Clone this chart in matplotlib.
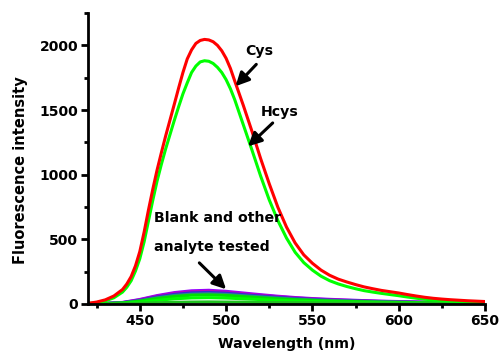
import numpy as np
import matplotlib
matplotlib.use("Agg")
import matplotlib.pyplot as plt
from matplotlib.ticker import MultipleLocator

plt.rcParams["font.family"] = ["DejaVu Sans"]
plt.rcParams["font.weight"] = "bold"

# ── data ────────────────────────────────────────────────────────────────────
wl = [420, 425, 430, 435, 440, 442.5, 445, 447.5, 450, 452.5, 455, 457.5, 460,
      462.5, 465, 470, 472.5, 475, 477.5, 480, 482.5, 485, 487.5, 490, 492.5, 495,
      497.5, 500, 502.5, 505, 510, 515, 520, 525, 530, 535, 540, 545, 550, 555,
      560, 565, 570, 575, 580, 585, 590, 595, 600, 605, 610, 615, 620, 625, 630,
      635, 640, 645, 650]

cys = [5, 15, 32, 62, 112, 155, 212, 295, 405, 555, 725, 885, 1035,
       1170, 1300, 1545, 1670, 1790, 1895, 1965, 2015, 2038, 2046, 2042, 2028, 2000,
       1958, 1900, 1822, 1725, 1535, 1335, 1125, 930, 748, 595, 472, 380, 315, 262,
       222, 192, 170, 150, 132, 118, 105, 95, 85, 73, 62, 52, 44, 38, 33,
       29, 25, 22, 19]

hcys = [3, 10, 24, 48, 92, 130, 180, 255, 350, 480, 640, 800, 950,
        1080, 1200, 1420, 1525, 1625, 1710, 1790, 1840, 1872, 1881, 1877, 1860, 1830,
        1790, 1735, 1665, 1580, 1385, 1190, 990, 805, 645, 510, 400, 320, 262, 215,
        180, 155, 135, 118, 103, 92, 82, 73, 64, 54, 45, 37, 31, 26, 22,
        18, 15, 12, 10]

wl_b = [420, 430, 440, 450, 460, 470, 480, 490, 500, 510, 520, 530, 540, 550,
        560, 570, 580, 590, 600, 610, 620, 630, 640, 650]
blank_curves = [
    ("#9400FF", [2, 5, 12, 35, 65, 88, 102, 106, 98, 85, 72, 60, 50, 42,
                 36, 31, 26, 22, 19, 16, 13, 11, 9, 8]),
    ("#C000C0", [2, 4, 11, 32, 60, 82, 95, 98, 91, 79, 67, 56, 47, 39,
                 33, 28, 24, 20, 17, 14, 12, 10, 8, 7]),
    ("#3030D0", [2, 4, 10, 28, 54, 74, 86, 89, 83, 72, 61, 51, 43, 36,
                 30, 26, 22, 18, 15, 13, 11, 9, 8, 7]),
    ("#2E8B8B", [2, 4, 9, 25, 48, 66, 76, 79, 74, 64, 55, 46, 38, 32,
                 27, 23, 19, 16, 14, 12, 10, 8, 7, 6]),
    ("#00E000", [1, 3, 8, 22, 42, 58, 68, 70, 66, 57, 48, 40, 33, 28,
                 23, 20, 17, 14, 12, 10, 9, 7, 6, 5]),
    ("#00FF00", [1, 2, 5, 14, 28, 40, 47, 49, 46, 40, 34, 28, 23, 19,
                 16, 14, 12, 10, 8, 7, 6, 5, 5, 4]),
    ("#20C020", [1, 2, 3, 6, 10, 13, 15, 16, 15, 14, 12, 11, 10, 9,
                 8, 8, 7, 7, 6, 6, 6, 5, 5, 5]),
]

# ── plot ────────────────────────────────────────────────────────────────────
fig = plt.figure(figsize=(5.0, 3.57), dpi=100)
ax = fig.add_axes([0.176, 0.1485, 0.794, 0.815])

for color, vals in blank_curves:
    ax.plot(wl_b, vals, color=color, lw=2.2, solid_joinstyle="round")
ax.plot(wl, hcys, color="#00FF00", lw=2.2, solid_joinstyle="round")
ax.plot(wl, cys, color="#FF0000", lw=2.2, solid_joinstyle="round")

ax.set_xlim(420, 650)
ax.set_ylim(0, 2250)
ax.set_xticks([450, 500, 550, 600, 650])
ax.xaxis.set_minor_locator(MultipleLocator(25))
ax.yaxis.set_major_locator(MultipleLocator(500))
ax.yaxis.set_minor_locator(MultipleLocator(250))

for s in ("top", "right"):
    ax.spines[s].set_visible(False)
for s in ("left", "bottom"):
    ax.spines[s].set_linewidth(2)
ax.tick_params(which="major", direction="out", length=5, width=2, labelsize=10, pad=2)
ax.tick_params(which="minor", direction="out", length=3, width=2)
for lab in ax.get_xticklabels() + ax.get_yticklabels():
    lab.set_fontweight("bold")

ax.set_xlabel("Wavelength (nm)", fontsize=10.2, fontweight="bold", labelpad=7)
ax.set_ylabel("Fluorescence intensity", fontsize=10.5, fontweight="bold")
ax.yaxis.set_label_coords(-0.152, 0.46)

arrow = dict(arrowstyle="-|>,head_length=0.8,head_width=0.4", color="black", lw=2.2,
             shrinkA=0, shrinkB=0)
txt = dict(fontsize=10.2, fontweight="bold", ha="center", va="center")

ax.text(519.5, 1960, "Cys", **txt)
ax.annotate("", xy=(505.5, 1684), xytext=(517.5, 1853), arrowprops=arrow)
ax.text(531, 1488, "Hcys", **txt)
ax.annotate("", xy=(512.7, 1219), xytext=(527, 1400), arrowprops=arrow)
ax.text(495, 667, "Blank and other", **txt)
ax.text(492, 442, "analyte tested", **txt)
ax.annotate("", xy=(500, 114), xytext=(484.5, 318), arrowprops=arrow)

fig.savefig("out.png", dpi=100)
